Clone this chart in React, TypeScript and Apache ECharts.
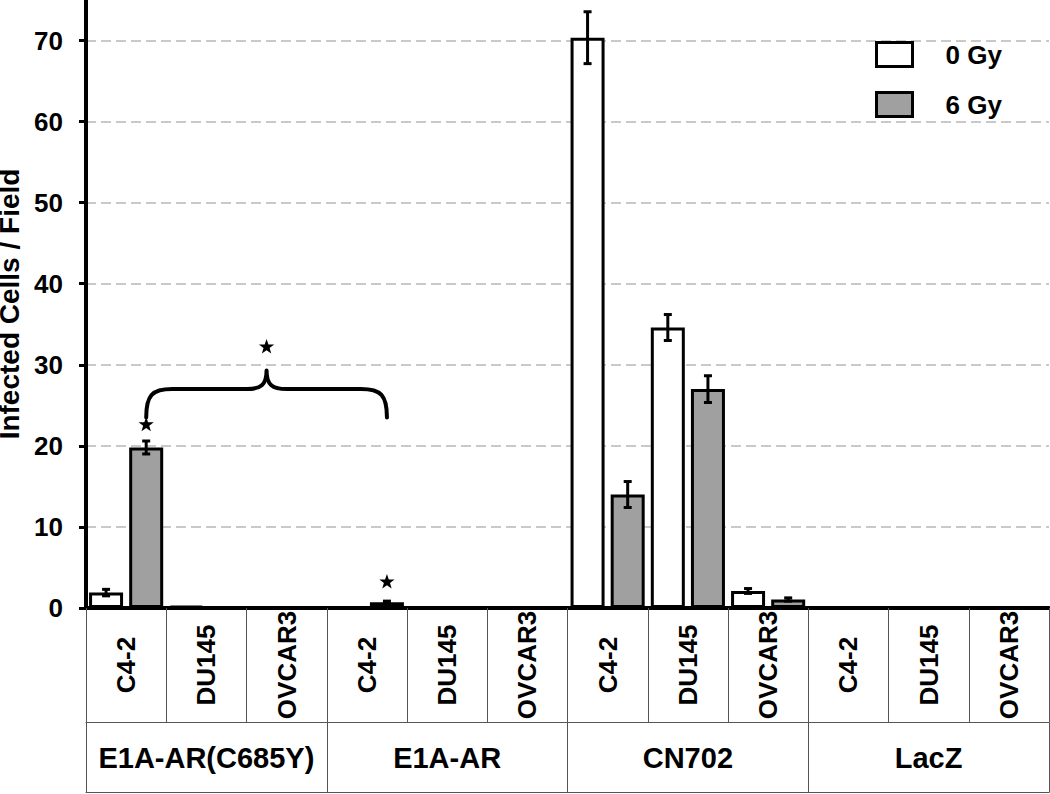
import React, { useEffect, useRef } from "react";
import * as echarts from "echarts";

// ---- data ----
const cellLines = ["C4-2", "DU145", "OVCAR3", "C4-2", "DU145", "OVCAR3", "C4-2", "DU145", "OVCAR3", "C4-2", "DU145", "OVCAR3"];
const vectors = ["E1A-AR(C685Y)", "E1A-AR", "CN702", "LacZ"];
const seriesNames = ["0 Gy", "6 Gy"];
const yTicks = [0, 10, 20, 30, 40, 50, 60, 70];
const gy0 = [1.9, 0.25, 0, 0.1, 0.1, 0, 70.35, 34.6, 2.1, 0, 0, 0];
const gy0Err = [0.4, 0, 0, 0, 0, 0, 3.2, 1.6, 0.3, 0, 0, 0];
const gy6 = [19.8, 0.15, 0, 0.7, 0.15, 0, 14.0, 27.0, 1.05, 0, 0, 0];
const gy6Err = [0.8, 0, 0, 0.15, 0, 0, 1.6, 1.65, 0.2, 0, 0, 0];
// significance annotations (on 6 Gy bars)
const starCats = [0, 3];
const starVals = [22.6, 3.2];
const braceCats = [0, 3];
const braceLevels = [23.5, 27.0, 29.3]; // tips, bar, peak
const braceStarVal = 32.2;

const FONT = "'Liberation Sans', Arial, Helvetica, sans-serif";

function starPoints(cx: number, cy: number, R: number) {
  const pts: number[][] = [];
  for (let k = 0; k < 10; k++) {
    const a = -Math.PI / 2 + (k * Math.PI) / 5;
    const r = k % 2 === 0 ? R : R * 0.4;
    pts.push([cx + r * Math.cos(a), cy + r * Math.sin(a)]);
  }
  return pts;
}

export default function App() {
  const ref = useRef<HTMLDivElement>(null);
  useEffect(() => {
    if (!ref.current) return;
    const chart = echarts.init(ref.current, undefined, { renderer: "svg" });

    const errData: number[][] = [];
    gy0.forEach((v, i) => { if (gy0Err[i] > 0) errData.push([i, v, gy0Err[i], -1]); });
    gy6.forEach((v, i) => { if (gy6Err[i] > 0) errData.push([i, v, gy6Err[i], 1]); });

    const labelStyle = { color: "#000", fontWeight: "bold" as const, fontFamily: FONT };

    chart.setOption({
      animation: false,
      backgroundColor: "#fff",
      textStyle: { fontFamily: FONT },
      grid: { left: 86, right: 1, top: 0, bottom: 186, containLabel: false, outerBoundsMode: "none" },
      legend: {
        data: seriesNames,
        orient: "vertical",
        left: 875,
        top: 41,
        padding: 0,
        icon: "rect",
        itemWidth: 36,
        itemHeight: 24,
        itemGap: 23,
        itemStyle: { borderColor: "#000", borderWidth: 3 },
        textStyle: { ...labelStyle, fontSize: 26, padding: [0, 0, 0, 28] },
      },
      xAxis: [
        {
          type: "category",
          data: cellLines,
          position: "bottom",
          axisLine: { show: true, lineStyle: { color: "#000", width: 4 } },
          axisTick: { show: true, interval: 0, length: 114.5, lineStyle: { color: "#555", width: 1 } },
          axisLabel: {
            ...labelStyle,
            interval: 0,
            rotate: 90,
            align: "center",
            verticalAlign: "middle",
            margin: 57,
            fontSize: 26,
          },
          splitLine: { show: false },
        },
        {
          type: "category",
          data: vectors,
          position: "bottom",
          offset: 114.5,
          axisLine: { show: true, lineStyle: { color: "#555", width: 1 } },
          axisTick: { show: true, interval: 0, length: 70, lineStyle: { color: "#555", width: 1 } },
          axisLabel: { ...labelStyle, interval: 0, verticalAlign: "middle", margin: 35, fontSize: 29 },
          splitLine: { show: false },
        },
        {
          type: "category",
          data: vectors,
          position: "bottom",
          offset: 184.3,
          axisLine: { show: true, lineStyle: { color: "#555", width: 1 } },
          axisTick: { show: false },
          axisLabel: { show: false },
          splitLine: { show: false },
        },
      ],
      yAxis: {
        type: "value",
        min: 0,
        max: 75,
        interval: 10,
        name: "Infected Cells / Field",
        nameLocation: "middle",
        nameGap: 52,
        nameTextStyle: { ...labelStyle, fontSize: 28, lineHeight: 24 },
        axisLine: { show: true, lineStyle: { color: "#000", width: 4 } },
        axisTick: { show: true, length: 7, customValues: yTicks, lineStyle: { color: "#000", width: 3 } },
        axisLabel: { ...labelStyle, fontSize: 26, margin: 23, customValues: yTicks },
        splitLine: {
          show: true,
          showMinLine: false,
          lineStyle: { color: "#b8b8b8", width: 1.5, type: [10, 5] },
        },
      },
      series: [
        {
          name: seriesNames[0],
          type: "bar",
          data: gy0,
          barWidth: 34,
          barGap: "18%",
          itemStyle: { color: "#ffffff", borderColor: "#000", borderWidth: 3 },
        },
        {
          name: seriesNames[1],
          type: "bar",
          data: gy6,
          barWidth: 34,
          barGap: "18%",
          itemStyle: { color: "#a0a0a0", borderColor: "#000", borderWidth: 3 },
        },
        {
          type: "custom",
          silent: true,
          z: 10,
          data: errData,
          encode: { x: 0, y: 1 },
          renderItem: (params: any, api: any) => {
            const i = api.value(0);
            const v = api.value(1);
            const e = api.value(2);
            const side = api.value(3);
            const bw = api.size([1, 0])[0];
            const top = api.coord([i, v + e]);
            const bot = api.coord([i, v - e]);
            const x = top[0] + side * bw * 0.25;
            const cap = 4;
            const st = { stroke: "#000", lineWidth: 3 };
            return {
              type: "group",
              children: [
                { type: "line", shape: { x1: x, y1: top[1], x2: x, y2: bot[1] }, style: st },
                { type: "line", shape: { x1: x - cap, y1: top[1], x2: x + cap, y2: top[1] }, style: st },
                { type: "line", shape: { x1: x - cap, y1: bot[1], x2: x + cap, y2: bot[1] }, style: st },
              ],
            };
          },
        },
        {
          type: "custom",
          silent: true,
          z: 10,
          data: [[0, 0]],
          renderItem: (params: any, api: any) => {
            const bw = api.size([1, 0])[0];
            const off = bw * 0.25;
            const children: any[] = [];
            starCats.forEach((c, k) => {
              const p = api.coord([c, starVals[k]]);
              children.push({
                type: "polygon",
                shape: { points: starPoints(p[0] + off, p[1], 8) },
                style: { fill: "#000" },
              });
            });
            const xL = api.coord([braceCats[0], 0])[0] + off;
            const xR = api.coord([braceCats[1], 0])[0] + off;
            const xM = (xL + xR) / 2;
            const yT = api.coord([0, braceLevels[0]])[1];
            const yH = api.coord([0, braceLevels[1]])[1];
            const yP = api.coord([0, braceLevels[2]])[1];
            const d =
              `M${xL},${yT} C${xL},${yH + 6} ${xL + 6},${yH} ${xL + 26},${yH} ` +
              `L${xM - 20},${yH} C${xM - 6},${yH} ${xM},${yH - 4} ${xM},${yP} ` +
              `C${xM},${yH - 4} ${xM + 6},${yH} ${xM + 20},${yH} ` +
              `L${xR - 26},${yH} C${xR - 6},${yH} ${xR},${yH + 6} ${xR},${yT}`;
            children.push({
              type: "path",
              shape: { pathData: d },
              style: { fill: "none", stroke: "#000", lineWidth: 4, lineCap: "round", lineJoin: "round" },
            });
            const sp = api.coord([0, braceStarVal]);
            children.push({
              type: "polygon",
              shape: { points: starPoints(xM, sp[1], 8) },
              style: { fill: "#000" },
            });
            return { type: "group", children };
          },
        },
      ],
    });
    return () => chart.dispose();
  }, []);
  return (
    <div
      ref={ref}
      style={{ position: "absolute", left: 0, top: 0, width: 1050, height: 794, background: "#fff" }}
    />
  );
}
